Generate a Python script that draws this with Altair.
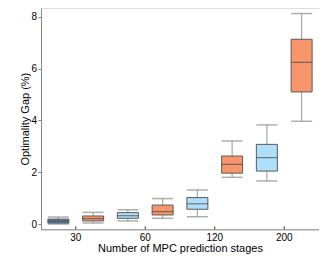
import altair as alt
import pandas as pd

group_labels = ["30", "60", "120", "200"]
box_group = ["30", "30", "60", "60", "120", "120", "200", "200"]
box_series = ["A", "B", "A", "B", "A", "B", "A", "B"]
box_id = ["b1", "o1", "b2", "o2", "b3", "o3", "b4", "o4"]
whisker_lo = [0.01, 0.05, 0.13, 0.23, 0.29, 1.81, 1.67, 3.97]
quart_1 = [0.04, 0.13, 0.23, 0.36, 0.58, 1.97, 2.05, 5.10]
median = [0.12, 0.22, 0.33, 0.49, 0.79, 2.31, 2.57, 6.24]
quart_3 = [0.20, 0.32, 0.45, 0.74, 1.03, 2.63, 3.08, 7.13]
whisker_hi = [0.28, 0.46, 0.56, 0.99, 1.32, 3.21, 3.83, 8.12]

box_colors = ["#4f7c9c", "#f7966b", "#aedffb", "#f7966b", "#aedffb", "#f7966b", "#aedffb", "#f7966b"]

df = pd.DataFrame({
    "group": box_group, "series": box_series, "box": box_id,
    "lo": whisker_lo, "q1": quart_1, "med": median, "q3": quart_3, "hi": whisker_hi,
})
gdf = pd.DataFrame({"group": group_labels})

W, H = 278, 221.3
FONT = "Liberation Sans"

xenc = alt.X("group:N", sort=group_labels,
             scale=alt.Scale(paddingInner=0, paddingOuter=0),
             axis=alt.Axis(title="Number of MPC prediction stages", labelAngle=0,
                           ticks=False, labelPadding=3, titlePadding=0,
                           titleFontWeight="normal"))
yscale = alt.Scale(domain=[-0.193, 8.335], nice=False, zero=False)
yaxis = alt.Axis(title="Optimality Gap (%)", values=[0, 2, 4, 6, 8], grid=False,
                 tickSize=3, labelPadding=1.5, titlePadding=0, titleFontWeight="normal")
xoff = alt.XOffset("series:N", scale=alt.Scale(paddingInner=0, paddingOuter=0))

base = alt.Chart(df).encode(x=xenc, xOffset=xoff)

whisk = base.mark_rule(color="#a8a8a8", strokeWidth=1.2).encode(
    y=alt.Y("lo:Q", scale=yscale, axis=yaxis), y2="hi:Q")
box = base.mark_bar(width=21, stroke="#5a5a5a", strokeWidth=1).encode(
    y=alt.Y("q1:Q", scale=yscale, axis=yaxis), y2="q3:Q",
    color=alt.Color("box:N", scale=alt.Scale(domain=box_id, range=box_colors), legend=None))
med = base.mark_tick(size=21, thickness=1.2, color="#4a4a4a").encode(
    y=alt.Y("med:Q", scale=yscale, axis=yaxis))
cap_hi = base.mark_tick(size=21, thickness=1.5, color="#8c8c8c").encode(
    y=alt.Y("hi:Q", scale=yscale, axis=yaxis))
cap_lo = base.mark_tick(size=21, thickness=1.5, color="#8c8c8c").encode(
    y=alt.Y("lo:Q", scale=yscale, axis=yaxis))
xticks = alt.Chart(gdf).mark_rule(color="#333", strokeWidth=1).encode(
    x=alt.X("group:N", sort=group_labels), y=alt.value(H), y2=alt.value(H - 3))

chart = alt.layer(whisk, box, med, cap_hi, cap_lo, xticks).properties(
    width=W, height=H,
    autosize=alt.AutoSizeParams(type="none"),
    padding={"left": 33, "top": 0, "right": 0, "bottom": 30},
).configure_view(stroke=None).configure_axis(
    domainColor="#222", domainWidth=1, tickColor="#222",
    labelFont=FONT, titleFont=FONT, labelFontSize=8.5, titleFontSize=10,
    labelColor="#222", titleColor="#111", titleFontWeight="normal",
).configure(background="white")

chart.save("out.html", embed_options={"renderer": "svg", "actions": False})
